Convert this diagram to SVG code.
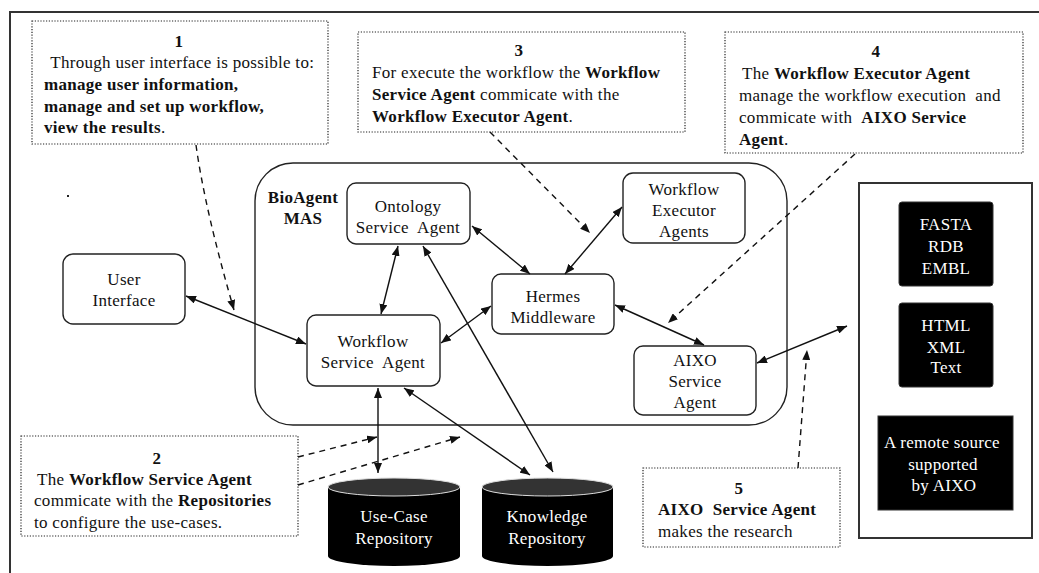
<svg xmlns="http://www.w3.org/2000/svg" width="1039" height="573" viewBox="0 0 1039 573">
  <style>
    text { font-family: "Liberation Serif", "Times New Roman", serif; font-size: 17px; letter-spacing: 0.3px; fill: #111; white-space: pre; }
    .b { font-weight: bold; }
    .c { text-anchor: middle; }
    .w { fill: #fff; }
    .note { fill: #fff; stroke: #222; stroke-width: 1.2; stroke-dasharray: 1.2 1.6; }
    .node { fill: #fff; stroke: #222; stroke-width: 1.4; }
    .blk { fill: #000; stroke: #333; stroke-width: 1; }
    .link { fill: none; stroke: #111; stroke-width: 1.4; marker-start: url(#ah); marker-end: url(#ah); }
    .dash { fill: none; stroke: #111; stroke-width: 1.4; stroke-dasharray: 6 5; marker-end: url(#ah); }
  </style>
  <defs>
    <marker id="ah" viewBox="0 0 10 8" refX="10" refY="4" markerWidth="10" markerHeight="8" markerUnits="userSpaceOnUse" orient="auto-start-reverse">
      <path d="M0,0 L10,4 L0,8 z" fill="#111"/>
    </marker>
  </defs>

  <rect width="1039" height="573" fill="#fff"/>
  <!-- outer frame -->
  <rect x="10" y="12" width="1040" height="570" fill="none" stroke="#333" stroke-width="2"/>
  <rect x="67" y="195" width="2" height="2" fill="#222"/>

  <!-- BioAgent MAS container -->
  <g id="bioagent-mas">
    <rect x="255" y="163" width="532" height="262" rx="38" ry="38" fill="none" stroke="#222" stroke-width="1.4"/>
    <text class="b c" x="303" y="203">BioAgent</text>
    <text class="b c" x="303" y="224">MAS</text>
  </g>

  <!-- external sources -->
  <g id="sources">
    <rect x="859" y="183" width="173" height="355" fill="#fff" stroke="#333" stroke-width="2"/>
    <g id="src-fasta">
      <rect class="blk" x="899" y="202" width="94" height="84" rx="3"/>
      <text class="w c" x="946" y="230">FASTA</text>
      <text class="w c" x="946" y="252">RDB</text>
      <text class="w c" x="946" y="274">EMBL</text>
    </g>
    <g id="src-html">
      <rect class="blk" x="899" y="303" width="94" height="84" rx="3"/>
      <text class="w c" x="946" y="331">HTML</text>
      <text class="w c" x="946" y="353">XML</text>
      <text class="w c" x="946" y="373">Text</text>
    </g>
    <g id="src-remote">
      <rect class="blk" x="878" y="416" width="135" height="94"/>
      <text class="w c" x="942" y="448">A remote source</text>
      <text class="w c" x="943" y="470">supported</text>
      <text class="w c" x="944" y="491">by AIXO</text>
    </g>
  </g>

  <!-- agent nodes -->
  <g id="user-interface">
    <rect class="node" x="63" y="254" width="122" height="70" rx="10"/>
    <text class="c" x="124" y="285">User</text>
    <text class="c" x="124" y="306">Interface</text>
  </g>
  <g id="ontology-agent">
    <rect class="node" x="347" y="183" width="123" height="61" rx="9"/>
    <text class="c" x="408" y="212">Ontology</text>
    <text class="c" x="408" y="233">Service  Agent</text>
  </g>
  <g id="workflow-service-agent">
    <rect class="node" x="307" y="315" width="133" height="71" rx="9"/>
    <text class="c" x="373" y="347">Workflow</text>
    <text class="c" x="373" y="368">Service  Agent</text>
  </g>
  <g id="hermes">
    <rect class="node" x="492" y="274" width="122" height="60" rx="9"/>
    <text class="c" x="553" y="302">Hermes</text>
    <text class="c" x="553" y="323">Middleware</text>
  </g>
  <g id="workflow-executor">
    <rect class="node" x="623" y="173" width="122" height="70" rx="10"/>
    <text class="c" x="684" y="195">Workflow</text>
    <text class="c" x="684" y="216">Executor</text>
    <text class="c" x="684" y="237">Agents</text>
  </g>
  <g id="aixo-agent">
    <rect class="node" x="634" y="346" width="122" height="69" rx="9"/>
    <text class="c" x="695" y="366">AIXO</text>
    <text class="c" x="695" y="387">Service</text>
    <text class="c" x="695" y="408">Agent</text>
  </g>

  <!-- repositories -->
  <g id="usecase-repo">
    <path d="M328,487 L328,556 A66,10 0 0 0 460,556 L460,487 Z" fill="#000"/>
    <ellipse cx="394" cy="487" rx="66" ry="9" fill="#333" stroke="#ddd" stroke-width="1"/>
    <text class="w c" x="394" y="522">Use-Case</text>
    <text class="w c" x="394" y="544">Repository</text>
  </g>
  <g id="knowledge-repo">
    <path d="M482,487 L482,556 A65.5,10 0 0 0 613,556 L613,487 Z" fill="#000"/>
    <ellipse cx="547.5" cy="487" rx="65.5" ry="9" fill="#333" stroke="#ddd" stroke-width="1"/>
    <text class="w c" x="547" y="522">Knowledge</text>
    <text class="w c" x="547" y="544">Repository</text>
  </g>

  <!-- explanatory notes -->
  <g id="note-1">
    <rect class="note" x="32" y="21" width="296" height="123"/>
    <text class="b c" x="179" y="47">1</text>
    <text x="46" y="68"> Through user interface is possible to:</text>
    <text class="b" x="44" y="90">manage user information,</text>
    <text class="b" x="44" y="112">manage and set up workflow,</text>
    <text x="44" y="133"><tspan class="b">view the results</tspan>.</text>
  </g>
  <g id="note-3">
    <rect class="note" x="358" y="32" width="327" height="100"/>
    <text class="b c" x="519" y="56">3</text>
    <text x="372" y="78">For execute the workflow the <tspan class="b">Workflow</tspan></text>
    <text x="372" y="100"><tspan class="b">Service Agent</tspan> commicate with the</text>
    <text x="372" y="122"><tspan class="b">Workflow Executor Agent</tspan>.</text>
  </g>
  <g id="note-4">
    <rect class="note" x="725" y="32" width="298" height="121"/>
    <text class="b c" x="876" y="57">4</text>
    <text x="742" y="79">The <tspan class="b">Workflow Executor Agent</tspan></text>
    <text x="739" y="101">manage the workflow execution  and</text>
    <text x="739" y="123">commicate with  <tspan class="b">AIXO Service</tspan></text>
    <text x="739" y="145"><tspan class="b">Agent</tspan>.</text>
  </g>
  <g id="note-2">
    <rect class="note" x="21" y="436" width="277" height="100"/>
    <text class="b c" x="157" y="464">2</text>
    <text x="37" y="485">The <tspan class="b">Workflow Service Agent</tspan></text>
    <text x="34" y="506">commicate with the <tspan class="b">Repositories</tspan></text>
    <text x="34" y="528">to configure the use-cases.</text>
  </g>
  <g id="note-5">
    <rect class="note" x="643" y="468" width="197" height="79"/>
    <text class="b c" x="739" y="494">5</text>
    <text class="b" x="658" y="515">AIXO  Service Agent</text>
    <text x="658" y="537">makes the research</text>
  </g>

  <!-- connectors -->
  <g id="connectors">
    <path class="link" d="M186,296 L306,344"/>
    <path class="link" d="M398,246 L381,314"/>
    <path class="link" d="M472,226 L530,274"/>
    <path class="link" d="M622,207 L565,274"/>
    <path class="link" d="M491,306 L441,343"/>
    <path class="link" d="M615,305 L704,345"/>
    <path class="link" d="M423,246 L553,472"/>
    <path class="link" d="M404,388 L530,475"/>
    <path class="link" d="M378,388 L378,473"/>
    <path class="link" d="M757,363 L847,326"/>

    <path class="dash" d="M196,145 Q205,210 234,310"/>
    <path class="dash" d="M490,132 L590,233"/>
    <path class="dash" d="M855,154 L668,323"/>
    <path class="dash" d="M298,457 L377,437"/>
    <path class="dash" d="M298,485 L460,437"/>
    <path class="dash" d="M798,468 L807,350"/>
  </g>
</svg>
